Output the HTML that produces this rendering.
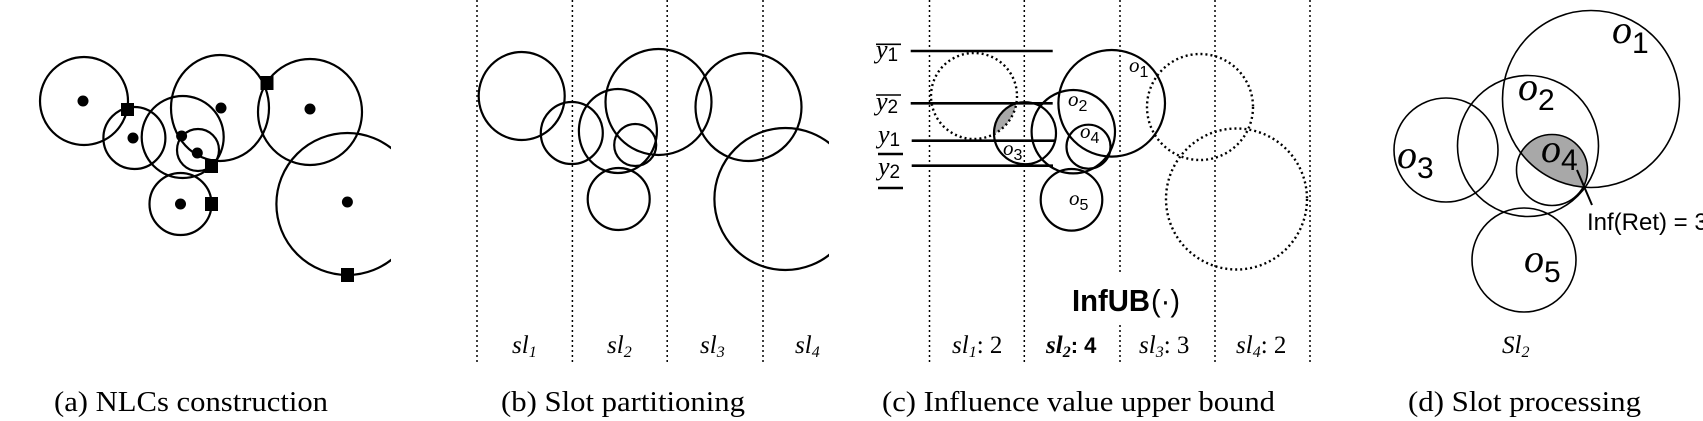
<!DOCTYPE html>
<html><head><meta charset="utf-8"><style>
html,body{margin:0;padding:0;background:#fff;}
svg{display:block;}
.c{fill:none;stroke:#000;stroke-width:2.2;}
.t{stroke:#000;stroke-width:1.6;fill:none;}
.d{fill:none;stroke:#000;stroke-width:2.4;stroke-dasharray:2 3;}
.v{stroke:#000;stroke-width:1.5;stroke-dasharray:2 3;}
.cap{font-family:"Liberation Serif",serif;font-size:28px;}
.sl{font-family:"Liberation Serif",serif;font-style:italic;font-size:25px;}
.sub{font-family:"Liberation Serif",serif;font-size:16px;}
.o{font-family:"Liberation Serif",serif;font-style:italic;}
.s{font-family:"Liberation Sans",sans-serif;}
</style></head><body>
<svg width="1703" height="421" viewBox="0 0 1703 421" xmlns="http://www.w3.org/2000/svg">
<defs>
<clipPath id="clipA"><rect x="0" y="0" width="391" height="421"/></clipPath>
<clipPath id="clipB"><rect x="400" y="0" width="429" height="421"/></clipPath>
<clipPath id="c1"><circle cx="974" cy="96" r="43"/></clipPath>
<clipPath id="d1"><circle cx="1591" cy="99" r="88.5"/></clipPath>
</defs>

<!-- Panel (a) -->
<g clip-path="url(#clipA)">
<circle class="c" cx="84" cy="101" r="44"/>
<circle class="c" cx="134.4" cy="138" r="31"/>
<circle class="c" cx="182.7" cy="137" r="41"/>
<ellipse class="c" cx="220" cy="108" rx="49" ry="53"/>
<ellipse class="c" cx="310" cy="112" rx="52" ry="53"/>
<circle class="c" cx="198" cy="150" r="21"/>
<circle class="c" cx="180.5" cy="204" r="31"/>
<circle class="c" cx="347.4" cy="204" r="71"/>
</g>
<g fill="#000">
<circle cx="83" cy="101" r="5.5"/>
<circle cx="133" cy="138" r="5.5"/>
<circle cx="221" cy="108" r="5.5"/>
<circle cx="310" cy="109" r="5.5"/>
<circle cx="181.6" cy="136" r="5.5"/>
<circle cx="197.3" cy="153" r="5.5"/>
<circle cx="180.5" cy="204" r="5.5"/>
<circle cx="347.4" cy="202" r="5.5"/>
<rect x="121" y="103" width="13" height="13"/>
<rect x="260.5" y="76" width="13" height="14"/>
<rect x="205" y="159" width="13" height="14"/>
<rect x="205" y="197" width="13" height="14"/>
<rect x="341" y="268" width="13" height="14"/>
</g>
<text class="cap" x="54" y="411" textLength="274" lengthAdjust="spacingAndGlyphs">(a) NLCs construction</text>

<!-- Panel (b) -->
<line class="v" x1="477" y1="0" x2="477" y2="363"/>
<line class="v" x1="572.4" y1="0" x2="572.4" y2="363"/>
<line class="v" x1="667.2" y1="0" x2="667.2" y2="363"/>
<line class="v" x1="763" y1="0" x2="763" y2="363"/>
<g clip-path="url(#clipB)">
<ellipse class="c" cx="521.7" cy="96" rx="43" ry="44"/>
<circle class="c" cx="571.8" cy="133" r="31"/>
<ellipse class="c" cx="617.9" cy="131" rx="39" ry="42"/>
<ellipse class="c" cx="658.5" cy="102" rx="53" ry="53"/>
<circle class="c" cx="635.2" cy="145" r="21"/>
<circle class="c" cx="618.7" cy="199" r="31"/>
<ellipse class="c" cx="748.5" cy="107" rx="53" ry="54"/>
<circle class="c" cx="785.4" cy="199" r="71"/>
</g>
<text class="sl" x="512" y="353">sl<tspan class="sub" dy="4">1</tspan></text>
<text class="sl" x="607" y="353">sl<tspan class="sub" dy="4">2</tspan></text>
<text class="sl" x="700" y="353">sl<tspan class="sub" dy="4">3</tspan></text>
<text class="sl" x="795" y="353">sl<tspan class="sub" dy="4">4</tspan></text>
<text class="cap" x="501" y="411" textLength="244" lengthAdjust="spacingAndGlyphs">(b) Slot partitioning</text>

<!-- Panel (c) -->
<line class="v" x1="929.5" y1="0" x2="929.5" y2="363"/>
<line class="v" x1="1024.3" y1="0" x2="1024.3" y2="363"/>
<line class="v" x1="1120" y1="0" x2="1120" y2="274"/>
<line class="v" x1="1120" y1="325" x2="1120" y2="363"/>
<line class="v" x1="1215" y1="0" x2="1215" y2="363"/>
<line class="v" x1="1310" y1="0" x2="1310" y2="363"/>

<circle cx="1025" cy="133.2" r="31" fill="#a8a8a8" clip-path="url(#c1)"/>
<circle class="d" cx="974" cy="96" r="43"/>
<circle class="d" cx="1200" cy="107" r="53"/>
<circle class="d" cx="1236.5" cy="199" r="70.5"/>
<circle class="c" cx="1025" cy="133.2" r="31"/>
<circle class="c" cx="1073.3" cy="131.7" r="41.7"/>
<circle class="c" cx="1111.7" cy="103.3" r="53.3"/>
<circle class="c" cx="1088.5" cy="146.7" r="22"/>
<circle class="c" cx="1071.5" cy="199.8" r="30.8"/>

<g stroke="#000" stroke-width="2.6">
<line x1="910.7" y1="51" x2="1052.7" y2="51"/>
<line x1="910.7" y1="103.3" x2="1052.7" y2="103.3"/>
<line x1="911.7" y1="140.7" x2="1055" y2="140.7"/>
<line x1="911.7" y1="165.7" x2="1053" y2="165.7"/>
<line x1="876" y1="44.3" x2="901" y2="44.3" stroke-width="1.6"/>
<line x1="876" y1="95" x2="901" y2="95" stroke-width="1.6"/>
<line x1="878" y1="154" x2="903" y2="154"/>
<line x1="878" y1="188" x2="903" y2="188"/>
</g>
<g class="o" font-size="26">
<text x="876" y="58">y<tspan class="s" font-style="normal" font-size="19" dy="3">1</tspan></text>
<text x="876" y="110">y<tspan class="s" font-style="normal" font-size="19" dy="3">2</tspan></text>
<text x="878" y="143">y<tspan class="s" font-style="normal" font-size="19" dy="3">1</tspan></text>
<text x="878" y="175">y<tspan class="s" font-style="normal" font-size="19" dy="3">2</tspan></text>
</g>
<g class="o" font-size="21">
<text x="1129" y="72">o<tspan class="s" font-style="normal" font-size="16" dy="5">1</tspan></text>
<text x="1068" y="106">o<tspan class="s" font-style="normal" font-size="16" dy="5">2</tspan></text>
<text x="1080" y="138">o<tspan class="s" font-style="normal" font-size="16" dy="5">4</tspan></text>
<text x="1003" y="155">o<tspan class="s" font-style="normal" font-size="16" dy="5">3</tspan></text>
<text x="1069" y="205">o<tspan class="s" font-style="normal" font-size="16" dy="5">5</tspan></text>
</g>
<text class="s" x="1072" y="311" font-size="31" font-weight="bold" textLength="78" lengthAdjust="spacingAndGlyphs">InfUB</text>
<text class="s" x="1151" y="311" font-size="31" textLength="29" lengthAdjust="spacingAndGlyphs">(·)</text>
<text class="sl" x="952" y="353">sl<tspan class="sub" dy="4">1</tspan><tspan dy="-4" font-style="normal">: 2</tspan></text>
<text class="sl" x="1046" y="353" font-weight="bold">sl<tspan class="sub" dy="4" font-weight="bold">2</tspan><tspan dy="-4" font-style="normal" class="s" font-size="22">: 4</tspan></text>
<text class="sl" x="1139" y="353">sl<tspan class="sub" dy="4">3</tspan><tspan dy="-4" font-style="normal">: 3</tspan></text>
<text class="sl" x="1236" y="353">sl<tspan class="sub" dy="4">4</tspan><tspan dy="-4" font-style="normal">: 2</tspan></text>
<text class="cap" x="882" y="411" textLength="393" lengthAdjust="spacingAndGlyphs">(c) Influence value upper bound</text>

<!-- Panel (d) -->
<circle cx="1552" cy="170" r="35.5" fill="#a8a8a8" clip-path="url(#d1)"/>
<circle class="t" cx="1591" cy="99" r="88.5"/>
<circle class="t" cx="1528" cy="146" r="70.5"/>
<circle class="t" cx="1446" cy="150" r="52"/>
<circle class="t" cx="1552" cy="170" r="35.5"/>
<circle class="t" cx="1524" cy="260" r="52"/>
<line x1="1577" y1="170" x2="1592" y2="205" stroke="#000" stroke-width="2"/>
<g class="o" font-size="40">
<text x="1612" y="43">o<tspan class="s" font-style="normal" font-size="30" dy="10">1</tspan></text>
<text x="1518" y="100">o<tspan class="s" font-style="normal" font-size="30" dy="10">2</tspan></text>
<text x="1397" y="168">o<tspan class="s" font-style="normal" font-size="30" dy="10">3</tspan></text>
<text x="1541" y="162">o<tspan class="s" font-style="normal" font-size="30" dy="8">4</tspan></text>
<text x="1524" y="272">o<tspan class="s" font-style="normal" font-size="30" dy="10">5</tspan></text>
</g>
<text class="s" x="1587" y="230" font-size="24">Inf(Ret) = 3</text>
<text class="sl" x="1502" y="353">Sl<tspan class="sub" dy="4">2</tspan></text>
<text class="cap" x="1408" y="411" textLength="233" lengthAdjust="spacingAndGlyphs">(d) Slot processing</text>
</svg>
</body></html>
